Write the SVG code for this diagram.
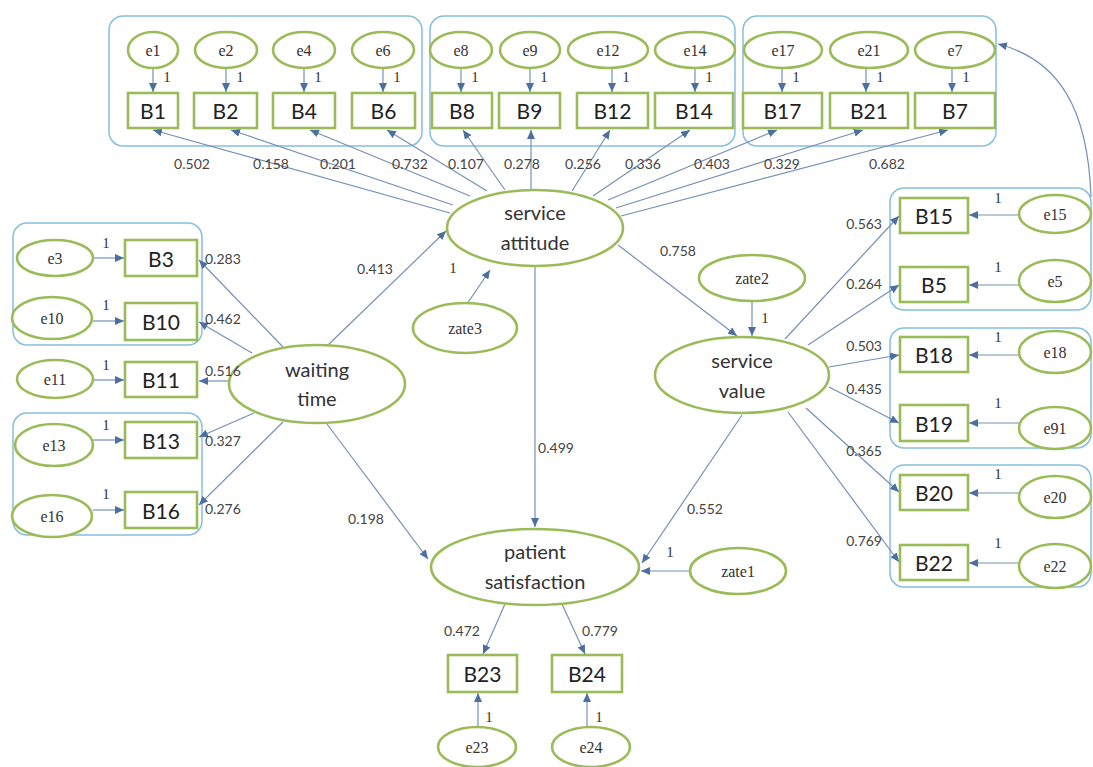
<svg xmlns="http://www.w3.org/2000/svg" width="1093" height="767" viewBox="0 0 1093 767">
<style>
.bg{fill:#fff}
.grp{fill:none;stroke:#86bfdc;stroke-width:1.5}
.ov{fill:#fff;stroke:#9bbb59;stroke-width:2.6}
.bx{fill:#fff;stroke:#9bbb59;stroke-width:2.6}
.c{stroke:#7590b8;stroke-width:1.2;fill:none;marker-end:url(#ah)}
.bt{font-family:Lato,"Open Sans",sans-serif;font-size:21px;font-weight:400;fill:#222;text-anchor:middle;dominant-baseline:central}
.lt{font-family:Lato,"Open Sans",sans-serif;font-size:20px;fill:#333;text-anchor:middle}
.et{font-family:"Liberation Serif",serif;font-size:16px;fill:#333;text-anchor:middle;dominant-baseline:central}
.num{font-family:Lato,"Open Sans",sans-serif;font-size:14px;fill:#444;dominant-baseline:central}
.one{font-family:"Liberation Serif",serif;font-size:15px;fill:#333;text-anchor:middle;dominant-baseline:central}
</style>
<defs>
<marker id="ah" markerUnits="userSpaceOnUse" markerWidth="9" markerHeight="8" refX="9" refY="4" orient="auto">
<path d="M0,0 L9,4 L0,8 z" fill="#4d6fa0"/>
</marker>
</defs>
<rect class="bg" x="0" y="0" width="1093" height="767"/>
<g id="groups">
<rect class="grp" x="109" y="16" width="313" height="130" rx="14"/>
<rect class="grp" x="430" y="16" width="305" height="130" rx="14"/>
<rect class="grp" x="743" y="16" width="253" height="130" rx="14"/>
<rect class="grp" x="13" y="223" width="189" height="122" rx="14"/>
<rect class="grp" x="13" y="413" width="189" height="122" rx="14"/>
<rect class="grp" x="890" y="188" width="201" height="122" rx="14"/>
<rect class="grp" x="890" y="328" width="201" height="120" rx="14"/>
<rect class="grp" x="890" y="465" width="201" height="122" rx="14"/>
</g>
<g id="connectors">
<path class="c" d="M153,68 L153,92"/>
<path class="c" d="M226,68 L226,92"/>
<path class="c" d="M304,68 L304,92"/>
<path class="c" d="M383,68 L383,92"/>
<path class="c" d="M461,68 L461,92"/>
<path class="c" d="M530,68 L530,92"/>
<path class="c" d="M612,68 L612,92"/>
<path class="c" d="M695,68 L695,92"/>
<path class="c" d="M782,68 L782,92"/>
<path class="c" d="M866,68 L866,92"/>
<path class="c" d="M952,68 L952,92"/>
<path class="c" d="M450,213 L153,130"/>
<path class="c" d="M453,205 L231,130"/>
<path class="c" d="M470,196 L310,130"/>
<path class="c" d="M487,191 L387,130"/>
<path class="c" d="M505,190 L463,130"/>
<path class="c" d="M531,190 L531,130"/>
<path class="c" d="M572,191 L610,130"/>
<path class="c" d="M593,196 L690,130"/>
<path class="c" d="M608,200 L777,130"/>
<path class="c" d="M616,208 L863,130"/>
<path class="c" d="M621,216 L948,130"/>
<path class="c" d="M283,347 L199,260"/>
<path class="c" d="M252,353 L199,322"/>
<path class="c" d="M230,381 L199,381"/>
<path class="c" d="M254,413 L199,437"/>
<path class="c" d="M283,422 L199,505"/>
<path class="c" d="M93,258 L124,258"/>
<path class="c" d="M93,321 L124,321"/>
<path class="c" d="M93,380 L124,380"/>
<path class="c" d="M93,440 L124,440"/>
<path class="c" d="M93,510 L124,510"/>
<path class="c" d="M327,346 L446,231"/>
<path class="c" d="M327,424 L428,559"/>
<path class="c" d="M467,304 L490,270"/>
<path class="c" d="M618,245 L737,336"/>
<path class="c" d="M752,301 L752,336"/>
<path class="c" d="M535,266 L535,527"/>
<path class="c" d="M742,415 L642,563"/>
<path class="c" d="M690,571 L641,571"/>
<path class="c" d="M505,604 L483,654"/>
<path class="c" d="M562,604 L585,654"/>
<path class="c" d="M478,726 L478,693"/>
<path class="c" d="M587,726 L587,693"/>
<path class="c" d="M785,339 L899,216"/>
<path class="c" d="M808,345 L899,285"/>
<path class="c" d="M829,367 L899,355"/>
<path class="c" d="M829,387 L899,423"/>
<path class="c" d="M806,408 L899,492"/>
<path class="c" d="M788,412 L899,562"/>
<path class="c" d="M1019,215 L969,215"/>
<path class="c" d="M1019,285 L969,285"/>
<path class="c" d="M1019,355 L969,355"/>
<path class="c" d="M1019,423 L969,423"/>
<path class="c" d="M1019,493 L969,493"/>
<path class="c" d="M1019,563 L969,563"/>
<path class="c" d="M1091,197 C1088,110 1060,60 998,44"/>
</g>
<g id="e1"><ellipse class="ov" cx="153" cy="50" rx="25" ry="18"/><text class="et" x="153" y="50">e1</text></g>
<g id="e2"><ellipse class="ov" cx="226" cy="50" rx="31" ry="18"/><text class="et" x="226" y="50">e2</text></g>
<g id="e4"><ellipse class="ov" cx="304" cy="50" rx="31" ry="18"/><text class="et" x="304" y="50">e4</text></g>
<g id="e6"><ellipse class="ov" cx="383" cy="50" rx="31" ry="18"/><text class="et" x="383" y="50">e6</text></g>
<g id="e8"><ellipse class="ov" cx="461" cy="50" rx="31" ry="18"/><text class="et" x="461" y="50">e8</text></g>
<g id="e9"><ellipse class="ov" cx="530" cy="50" rx="30" ry="18"/><text class="et" x="530" y="50">e9</text></g>
<g id="e12"><ellipse class="ov" cx="608" cy="50" rx="40" ry="18"/><text class="et" x="608" y="50">e12</text></g>
<g id="e14"><ellipse class="ov" cx="695" cy="50" rx="40" ry="18"/><text class="et" x="695" y="50">e14</text></g>
<g id="e17"><ellipse class="ov" cx="783" cy="50" rx="39" ry="18"/><text class="et" x="783" y="50">e17</text></g>
<g id="e21"><ellipse class="ov" cx="869" cy="50" rx="39" ry="18"/><text class="et" x="869" y="50">e21</text></g>
<g id="e7"><ellipse class="ov" cx="955" cy="50" rx="40" ry="18"/><text class="et" x="955" y="50">e7</text></g>
<g id="B1"><rect class="bx" x="128" y="93" width="50" height="35"/><text class="bt" x="153" y="110.5">B1</text></g>
<g id="B2"><rect class="bx" x="194" y="93" width="63" height="35"/><text class="bt" x="225.5" y="110.5">B2</text></g>
<g id="B4"><rect class="bx" x="273" y="93" width="62" height="35"/><text class="bt" x="304" y="110.5">B4</text></g>
<g id="B6"><rect class="bx" x="352" y="93" width="63" height="35"/><text class="bt" x="383.5" y="110.5">B6</text></g>
<g id="B8"><rect class="bx" x="432" y="93" width="60" height="35"/><text class="bt" x="462" y="110.5">B8</text></g>
<g id="B9"><rect class="bx" x="499" y="93" width="61" height="35"/><text class="bt" x="529.5" y="110.5">B9</text></g>
<g id="B12"><rect class="bx" x="577" y="93" width="71" height="35"/><text class="bt" x="612.5" y="110.5">B12</text></g>
<g id="B14"><rect class="bx" x="655" y="93" width="78" height="35"/><text class="bt" x="694" y="110.5">B14</text></g>
<g id="B17"><rect class="bx" x="743" y="93" width="79" height="35"/><text class="bt" x="782.5" y="110.5">B17</text></g>
<g id="B21"><rect class="bx" x="830" y="93" width="78" height="35"/><text class="bt" x="869" y="110.5">B21</text></g>
<g id="B7"><rect class="bx" x="915" y="93" width="80" height="35"/><text class="bt" x="955" y="110.5">B7</text></g>
<g id="e3"><ellipse class="ov" cx="55" cy="258" rx="38" ry="18"/><text class="et" x="55" y="258">e3</text></g>
<g id="e10"><ellipse class="ov" cx="52" cy="318" rx="40" ry="21"/><text class="et" x="52" y="318">e10</text></g>
<g id="e11"><ellipse class="ov" cx="55" cy="379" rx="38" ry="19"/><text class="et" x="55" y="379">e11</text></g>
<g id="e13"><ellipse class="ov" cx="54" cy="445" rx="39" ry="21"/><text class="et" x="54" y="445">e13</text></g>
<g id="e16"><ellipse class="ov" cx="52" cy="516" rx="40" ry="21"/><text class="et" x="52" y="516">e16</text></g>
<g id="B3"><rect class="bx" x="125" y="240" width="72" height="36"/><text class="bt" x="161" y="258">B3</text></g>
<g id="B10"><rect class="bx" x="125" y="303" width="72" height="37"/><text class="bt" x="161" y="321.5">B10</text></g>
<g id="B11"><rect class="bx" x="125" y="362" width="72" height="35"/><text class="bt" x="161" y="379.5">B11</text></g>
<g id="B13"><rect class="bx" x="125" y="422" width="72" height="36"/><text class="bt" x="161" y="440">B13</text></g>
<g id="B16"><rect class="bx" x="125" y="492" width="72" height="36"/><text class="bt" x="161" y="510">B16</text></g>
<g id="e15"><ellipse class="ov" cx="1055" cy="214" rx="36" ry="19"/><text class="et" x="1055" y="214">e15</text></g>
<g id="e5"><ellipse class="ov" cx="1055" cy="281" rx="36" ry="21"/><text class="et" x="1055" y="281">e5</text></g>
<g id="e18"><ellipse class="ov" cx="1055" cy="352" rx="36" ry="21"/><text class="et" x="1055" y="352">e18</text></g>
<g id="e91"><ellipse class="ov" cx="1055" cy="428" rx="36" ry="21"/><text class="et" x="1055" y="428">e91</text></g>
<g id="e20"><ellipse class="ov" cx="1055" cy="497" rx="36" ry="21"/><text class="et" x="1055" y="497">e20</text></g>
<g id="e22"><ellipse class="ov" cx="1055" cy="566" rx="36" ry="22"/><text class="et" x="1055" y="566">e22</text></g>
<g id="B15"><rect class="bx" x="900" y="198" width="68" height="35"/><text class="bt" x="934" y="215.5">B15</text></g>
<g id="B5"><rect class="bx" x="900" y="267" width="68" height="35"/><text class="bt" x="934" y="284.5">B5</text></g>
<g id="B18"><rect class="bx" x="900" y="337" width="68" height="35"/><text class="bt" x="934" y="354.5">B18</text></g>
<g id="B19"><rect class="bx" x="900" y="405" width="68" height="36"/><text class="bt" x="934" y="423">B19</text></g>
<g id="B20"><rect class="bx" x="900" y="475" width="68" height="35"/><text class="bt" x="934" y="492.5">B20</text></g>
<g id="B22"><rect class="bx" x="900" y="545" width="68" height="35"/><text class="bt" x="934" y="562.5">B22</text></g>
<g id="service_attitude"><ellipse class="ov" cx="535" cy="228" rx="88" ry="38"/><text class="lt" x="535" y="220">service</text><text class="lt" x="535" y="250">attitude</text></g>
<g id="waiting_time"><ellipse class="ov" cx="317" cy="384" rx="88" ry="39"/><text class="lt" x="317" y="377">waiting</text><text class="lt" x="317" y="406">time</text></g>
<g id="service_value"><ellipse class="ov" cx="742" cy="375" rx="87" ry="38"/><text class="lt" x="742" y="368">service</text><text class="lt" x="742" y="398">value</text></g>
<g id="patient_satisfaction"><ellipse class="ov" cx="535" cy="567" rx="104" ry="38"/><text class="lt" x="535" y="559">patient</text><text class="lt" x="535" y="589">satisfaction</text></g>
<g id="zate3"><ellipse class="ov" cx="465" cy="328" rx="52" ry="25"/><text class="et" x="465" y="328">zate3</text></g>
<g id="zate2"><ellipse class="ov" cx="752" cy="278" rx="53" ry="23"/><text class="et" x="752" y="278">zate2</text></g>
<g id="zate1"><ellipse class="ov" cx="738" cy="571" rx="48" ry="23"/><text class="et" x="738" y="571">zate1</text></g>
<g id="B23"><rect class="bx" x="448" y="655" width="69" height="37"/><text class="bt" x="482.5" y="673.5">B23</text></g>
<g id="B24"><rect class="bx" x="552" y="655" width="70" height="37"/><text class="bt" x="587" y="673.5">B24</text></g>
<g id="e23"><ellipse class="ov" cx="477" cy="747" rx="39" ry="20"/><text class="et" x="477" y="747">e23</text></g>
<g id="e24"><ellipse class="ov" cx="591" cy="747" rx="39" ry="20"/><text class="et" x="591" y="747">e24</text></g>
<g id="labels">
<text class="one" x="167" y="77">1</text>
<text class="one" x="240" y="77">1</text>
<text class="one" x="318" y="77">1</text>
<text class="one" x="397" y="77">1</text>
<text class="one" x="475" y="77">1</text>
<text class="one" x="544" y="77">1</text>
<text class="one" x="626" y="77">1</text>
<text class="one" x="709" y="77">1</text>
<text class="one" x="796" y="77">1</text>
<text class="one" x="880" y="77">1</text>
<text class="one" x="966" y="77">1</text>
<text class="one" x="106" y="243">1</text>
<text class="one" x="106" y="305">1</text>
<text class="one" x="106" y="365">1</text>
<text class="one" x="106" y="425">1</text>
<text class="one" x="106" y="494">1</text>
<text class="one" x="998" y="198">1</text>
<text class="one" x="998" y="267">1</text>
<text class="one" x="998" y="337">1</text>
<text class="one" x="998" y="403">1</text>
<text class="one" x="998" y="474">1</text>
<text class="one" x="998" y="543">1</text>
<text class="one" x="453" y="268">1</text>
<text class="one" x="765" y="318">1</text>
<text class="one" x="670" y="552">1</text>
<text class="one" x="489" y="717">1</text>
<text class="one" x="599" y="717">1</text>
<g class="num" text-anchor="middle">
<text x="192" y="163">0.502</text>
<text x="271" y="163">0.158</text>
<text x="338" y="163">0.201</text>
<text x="410" y="163">0.732</text>
<text x="466" y="163">0.107</text>
<text x="522" y="163">0.278</text>
<text x="583" y="163">0.256</text>
<text x="643" y="163">0.336</text>
<text x="712" y="163">0.403</text>
<text x="782" y="163">0.329</text>
<text x="887" y="163">0.682</text>
<text x="375" y="268">0.413</text>
<text x="678" y="250">0.758</text>
<text x="556" y="447">0.499</text>
<text x="705" y="508">0.552</text>
<text x="366" y="518">0.198</text>
<text x="462" y="630">0.472</text>
<text x="600" y="630">0.779</text>
</g>
<g class="num" text-anchor="start">
<text x="205" y="258">0.283</text>
<text x="205" y="318">0.462</text>
<text x="205" y="370">0.516</text>
<text x="205" y="440">0.327</text>
<text x="205" y="508">0.276</text>
</g>
<g class="num" text-anchor="end">
<text x="882" y="223">0.563</text>
<text x="882" y="283">0.264</text>
<text x="882" y="345">0.503</text>
<text x="882" y="388">0.435</text>
<text x="882" y="450">0.365</text>
<text x="882" y="540">0.769</text>
</g>
</g>
</svg>
